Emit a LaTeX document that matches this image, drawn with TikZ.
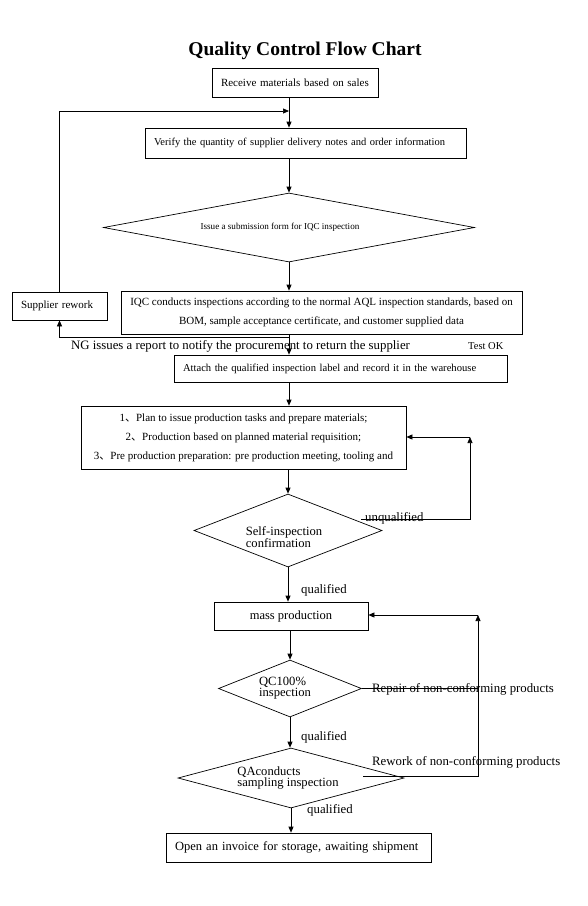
\documentclass[tikz,border=0pt]{standalone}
\usepackage{fontspec}
\setmainfont{Liberation Serif}
\newfontfamily\cjkfont{Noto Sans CJK SC}
\usepackage{tikz}
\usetikzlibrary{shapes.geometric,arrows.meta,positioning}

\begin{document}
\begin{tikzpicture}[
  x=1pt, y=-1pt,
  txtbox/.style={draw, line width=0.7pt, inner xsep=9pt, inner ysep=0pt, align=left,
                 font=\fontsize{11}{19}\selectfont},
  midbox/.style={draw, line width=0.7pt, inner sep=0pt, align=center,
                 font=\fontsize{11}{19}\selectfont},
  check/.style={diamond, draw, line width=0.7pt, inner sep=0pt, align=left,
                font=\fontsize{12.6}{11}\selectfont},
  note/.style={inner sep=0pt, font=\fontsize{12.8}{12.8}\selectfont},
  arr/.style={-{Triangle[length=6pt,width=5pt]}, line width=0.7pt},
  wire/.style={line width=0.7pt}
]
\useasboundingbox (0,0) rectangle (588,906);

% ── Title ─────────────────────────────────────────────────────
\node[font=\fontsize{19.5}{19.5}\selectfont\bfseries] (title) at (305,51) {Quality Control Flow Chart};

% ── Incoming inspection ───────────────────────────────────────
\node[txtbox, text width=148pt, minimum height=29pt] (recv) at (295,82.5) {Receive materials based on sales};
\node[txtbox, text width=303pt, minimum height=30pt, font=\fontsize{10.5}{19}\selectfont] (verify) at (305.5,143) {Verify the quantity of supplier delivery notes and order information};
\node[check, aspect=5.4, minimum width=371pt, minimum height=69pt,
      font=\fontsize{9.1}{10}\selectfont] (submit) at (289,227.5) {Issue a submission form for IQC inspection\hspace*{18pt}};
\node[midbox, minimum width=401pt, minimum height=43pt] (iqc) at (321.5,312.5) {IQC conducts inspections according to the normal AQL inspection standards, based on\\BOM, sample acceptance certificate, and customer supplied data};
\node[txtbox, text width=77pt, minimum height=28pt] (rework) at (59.5,306) {Supplier rework};
\node[txtbox, text width=315pt, minimum height=27pt, font=\fontsize{10.6}{19}\selectfont] (attach) at (340.5,368.5) {Attach the qualified inspection label and record it in the warehouse};

% ── Production ────────────────────────────────────────────────
\node[midbox, minimum width=325pt, minimum height=63pt] (plan) at (243.5,437.5) {1{\cjkfont 、}Plan to issue production tasks and prepare materials;\\2{\cjkfont 、}Production based on planned material requisition;\\3{\cjkfont 、}Pre production preparation: pre production meeting, tooling and};
\node[check, aspect=2.58, minimum width=188pt, minimum height=73pt] (selfchk) at (288,530.5) {\rule{0pt}{22pt}Self-inspection\hspace*{8pt}\\confirmation};
\node[midbox, minimum width=154pt, minimum height=28pt, font=\fontsize{12.5}{12.5}\selectfont] (mass) at (291,616) {mass production};
\node[check, aspect=2.5, minimum width=143pt, minimum height=57pt] (qc) at (290,688.5) {QC100\%\\inspection\hspace*{10pt}};
\node[check, aspect=3.77, minimum width=226pt, minimum height=60pt] (qa) at (291,778) {QAconducts\\sampling inspection\hspace*{6pt}};
\node[txtbox, text width=247pt, minimum height=29pt, font=\fontsize{12.5}{12.5}\selectfont] (ship) at (298.5,847.5) {Open an invoice for storage, awaiting shipment};

% ── Labels ────────────────────────────────────────────────────
\node[note, anchor=west] (nglbl) at (71,346) {NG issues a report to notify the procurement to return the supplier};
\node[note, anchor=west, font=\fontsize{10.5}{10.5}\selectfont] (oklbl) at (468,346) {Test OK};
\node[note, anchor=base west] (uqlbl) at (365,521) {unqualified};
\node[note, anchor=west] (qlbl1) at (301,590) {qualified};
\node[note, anchor=base west] (repairlbl) at (372,692) {Repair of non-conforming products};
\node[note, anchor=west] (qlbl2) at (301,737) {qualified};
\node[note, anchor=west] (reworklbl) at (372,762) {Rework of non-conforming products};
\node[note, anchor=west] (qlbl3) at (307,810) {qualified};

% ── Arrows ────────────────────────────────────────────────────
\coordinate (spine) at (289,0);
\coordinate (topjoin) at (289,111);
\coordinate (ngturn) at (289,337);
\coordinate (uqstart) at (361,519);
\coordinate (uqturn) at (470,437);
\coordinate (rwstart) at (363,776);
\coordinate (rwturn) at (478,615);

\draw[arr] (recv.south -| spine) -- (verify.north -| spine);
\draw[arr] (rework.north) |- (topjoin);
\draw[arr] (verify.south -| spine) -- (submit.north);
\draw[arr] (submit.south) -- (iqc.north -| spine);
\draw[arr] (iqc.south -| spine) -- (attach.north -| spine);
\draw[arr] (ngturn) -| (rework.south);
\draw[arr] (attach.south -| spine) -- (plan.north -| spine);
\draw[arr] (plan.south -| selfchk) -- (selfchk.north);
\draw[arr] (uqstart) -| (uqturn);
\draw[arr] (uqturn) -- (plan.east |- uqturn);
\draw[arr] (selfchk.south) -- (selfchk.south |- mass.north);
\draw[arr] (mass.south -| qc) -- (qc.north);
\draw[wire] (qc.east) -- (qc.east -| rwturn);
\draw[arr] (rwstart) -| (rwturn);
\draw[arr] (rwturn) -- (mass.east |- rwturn);
\draw[arr] (qc.south) -- (qc.south |- qa.north);
\draw[arr] (qa.south) -- (qa.south |- ship.north);
\end{tikzpicture}
\end{document}
